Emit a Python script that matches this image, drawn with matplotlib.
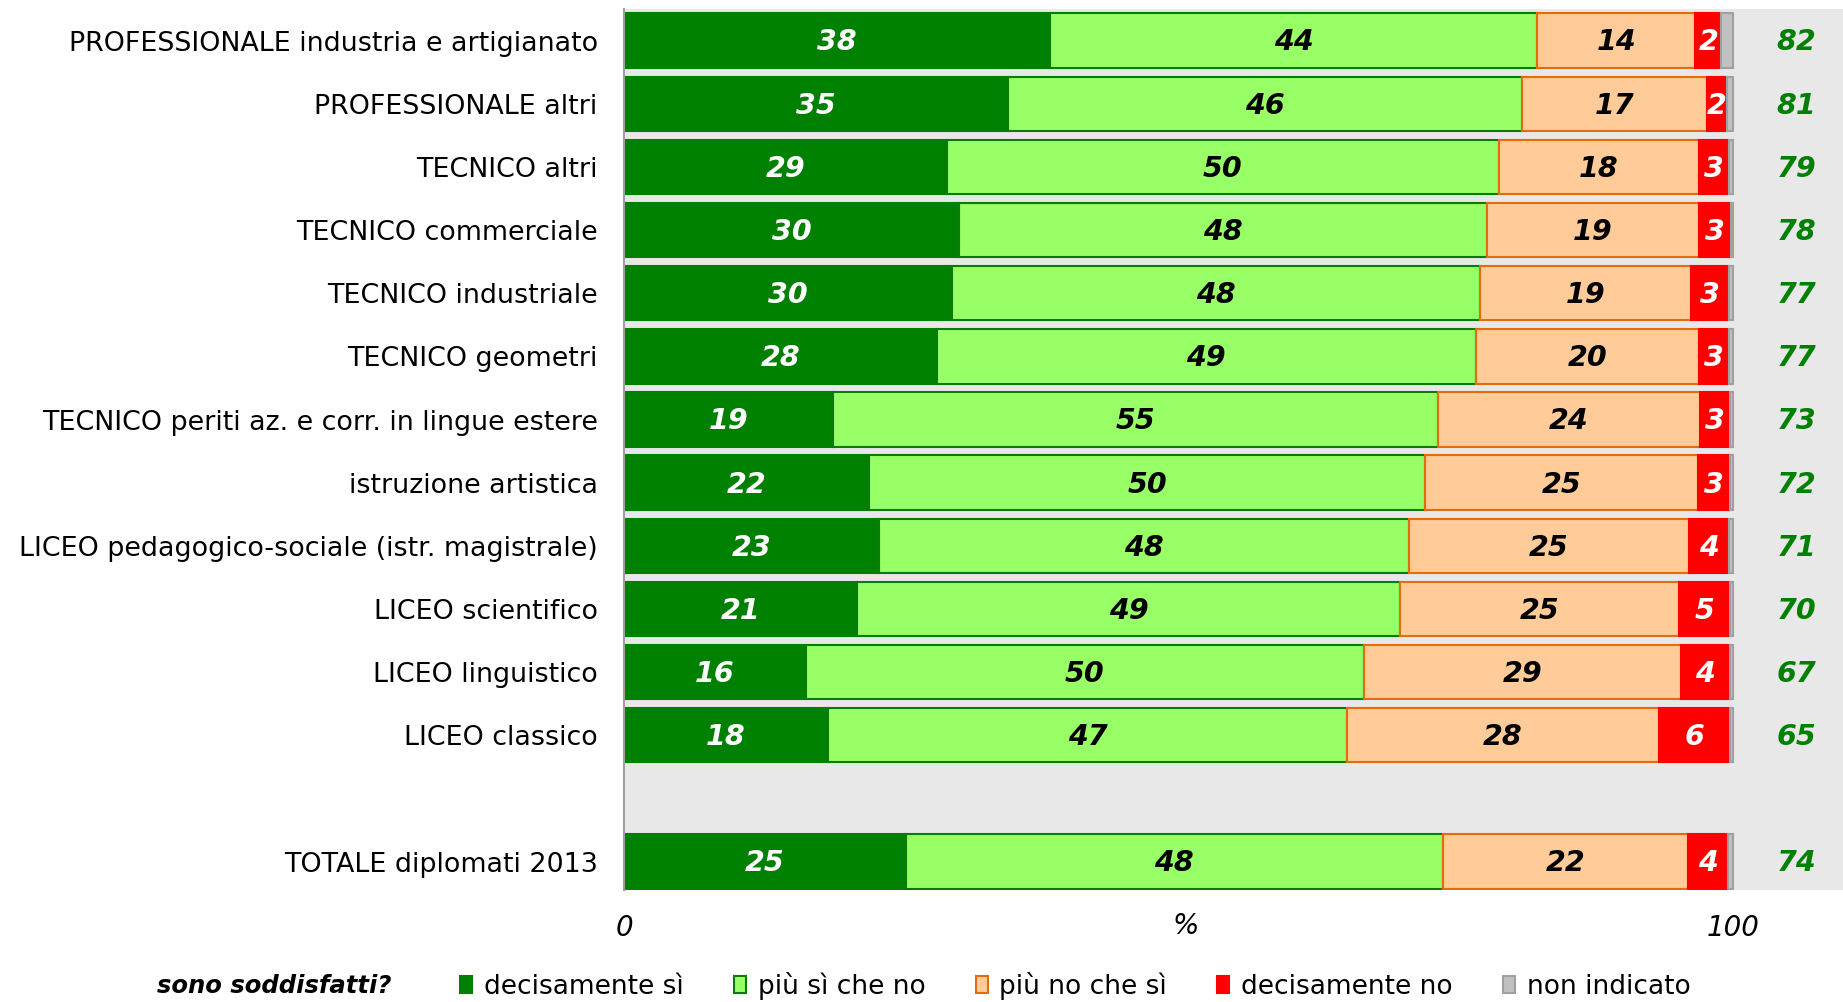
import numpy as np
import matplotlib.pyplot as plt
from matplotlib.patches import Patch
from matplotlib import font_manager

# values (percent)
categories = [
    "PROFESSIONALE industria e artigianato",
    "PROFESSIONALE altri",
    "TECNICO altri",
    "TECNICO commerciale",
    "TECNICO industriale",
    "TECNICO geometri",
    "TECNICO periti az. e corr. in lingue estere",
    "istruzione artistica",
    "LICEO pedagogico-sociale (istr. magistrale)",
    "LICEO scientifico",
    "LICEO linguistico",
    "LICEO classico",
    "TOTALE diplomati 2013",
]
row_pos = [0, 1, 2, 3, 4, 5, 6, 7, 8, 9, 10, 11, 13]

decisamente_si = [38.4, 34.6, 29.1, 30.2, 29.6, 28.2, 18.8, 22.1, 23.0, 21.0, 16.4, 18.4, 25.4]
piu_si_che_no = [43.9, 46.4, 49.8, 47.6, 47.6, 48.6, 54.6, 50.1, 47.8, 49.0, 50.3, 46.8, 48.4]
piu_no_che_si = [14.3, 16.6, 18.0, 19.1, 19.0, 20.1, 23.6, 24.6, 25.2, 25.1, 28.6, 28.1, 22.1]
decisamente_no = [2.3, 1.8, 2.7, 2.9, 3.4, 2.7, 2.7, 2.9, 3.6, 4.6, 4.4, 6.4, 3.6]
non_indicato = [1.1, 0.6, 0.4, 0.2, 0.4, 0.4, 0.3, 0.3, 0.4, 0.3, 0.3, 0.3, 0.5]

series_names = ["decisamente sì", "più sì che no", "più no che sì", "decisamente no", "non indicato"]
series = [decisamente_si, piu_si_che_no, piu_no_che_si, decisamente_no, non_indicato]
face_cols = ["#008000", "#99FF66", "#FFCC99", "#FF0000", "#C0C0C0"]
edge_cols = ["#008000", "#0A7A0A", "#E46C0A", "#FF0000", "#A0A0A0"]
text_cols = ["white", "black", "black", "white", None]

narrow = ["Liberation Sans Narrow", "DejaVu Sans"]
have_narrow = any(f.name == "Liberation Sans Narrow" for f in font_manager.fontManager.ttflist)
narrow_size = 24 if have_narrow else 19
tick_size = 26 if have_narrow else 20

fig = plt.figure(figsize=(18.43, 10.02), dpi=100)
ax = fig.add_axes([0.3386, 0.1118, 0.6614, 0.8792])
ax.set_facecolor("#E8E8E8")

left = np.zeros(len(categories))
for vals, fc, ec, tc in zip(series, face_cols, edge_cols, text_cols):
    vals = np.array(vals)
    ax.barh(row_pos, vals, left=left, height=0.86, color=fc, edgecolor=ec, linewidth=1.5)
    if tc is not None:
        for y, l, v in zip(row_pos, left, vals):
            ax.text(l + v / 2, y + 0.03, "{}".format(int(round(v))), ha="center", va="center",
                    color=tc, fontsize=20.5, fontweight="bold", fontstyle="italic")
    left += vals

# share of satisfied (decisamente sì + più sì che no)
totals = np.array(decisamente_si) + np.array(piu_si_che_no)
for y, t in zip(row_pos, totals):
    ax.text(105.7, y + 0.03, "{}".format(int(round(t))), ha="center", va="center",
            color="#008000", fontsize=20.5, fontweight="bold", fontstyle="italic")

ax.set_xlim(0, 109.9)
ax.set_ylim(13.45, -0.5)

ax.set_yticks(row_pos)
ax.set_yticklabels(categories, fontsize=19.4)
ax.tick_params(axis="y", length=0, pad=19)

ax.set_xticks([0, 100])
ax.set_xticklabels(["0", "100"], fontsize=tick_size, fontstyle="italic", family=narrow)
ax.tick_params(axis="x", length=0, pad=17)
ax.set_xlabel("%", fontsize=tick_size, fontstyle="italic", family=narrow, va="center")
ax.xaxis.set_label_coords(50.6 / 109.9, -0.041)

for s in ["top", "right", "bottom"]:
    ax.spines[s].set_visible(False)
ax.spines["left"].set_color("#A0A0A0")
ax.spines["left"].set_linewidth(1.5)

handles = [Patch(facecolor=fc, edgecolor=ec, linewidth=1.5) for fc, ec in zip(face_cols, edge_cols)]
fig.legend(handles, series_names, loc="center", bbox_to_anchor=(0.5835, 0.016), ncol=5,
           frameon=False, prop={"family": narrow, "size": narrow_size},
           handlelength=0.45, handleheight=0.6, handletextpad=0.45, columnspacing=1.9)
fig.text(0.1487, 0.016, "sono soddisfatti?", ha="center", va="center",
         fontsize=17.5, fontweight="bold", fontstyle="italic")

fig.savefig("out.png", dpi=100)
